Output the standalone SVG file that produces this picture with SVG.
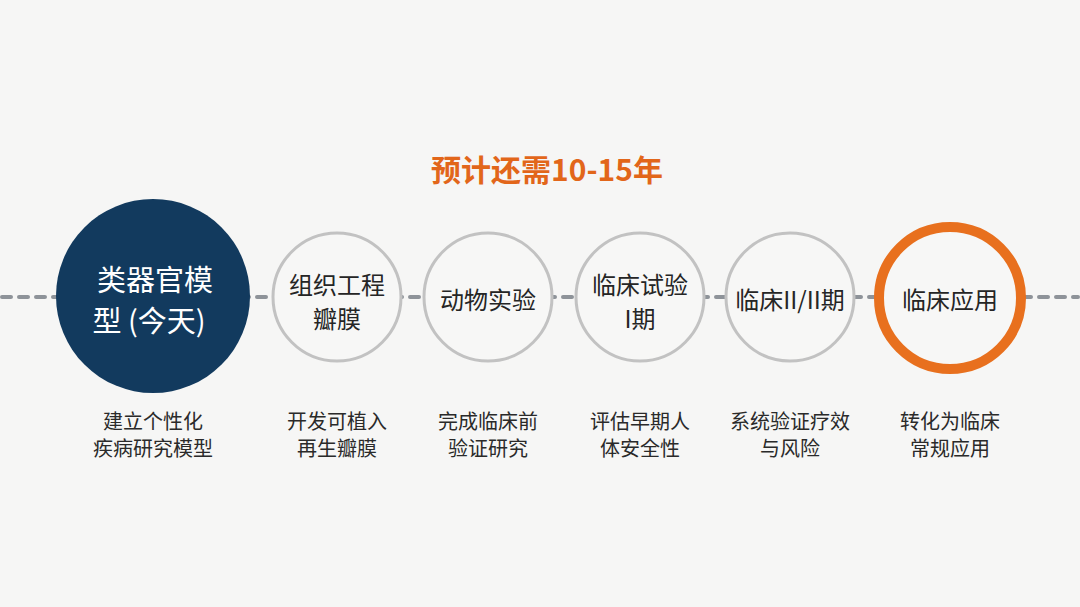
<svg xmlns="http://www.w3.org/2000/svg" width="1080" height="607" viewBox="0 0 1080 607">
<style>
.t{font-family:"Noto Sans CJK SC","Noto Sans",sans-serif;text-anchor:middle;dominant-baseline:central}
.node{fill:#f7f7f6;stroke:#c2c2c2;stroke-width:3}
.in{font-size:24px;fill:#252525}
.sub{font-size:20px;fill:#2a2a2a}
</style>
<rect width="1080" height="607" fill="#f6f6f5"/>
<g id="connectors">
<line x1="2" y1="297" x2="1078" y2="297" stroke="#8e9399" stroke-width="4" stroke-linecap="round" stroke-dasharray="9 8"/>
</g>
<text class="t" x="547" y="168" font-size="30" font-weight="700" fill="#e2661a">预计还需10-15年</text>
<g id="n1">
<circle cx="153" cy="296" r="97" fill="#123a5e"/>
<text class="t" x="155" y="278" font-size="29" fill="#ffffff">类器官模</text>
<text class="t" x="149" y="319" font-size="29" fill="#ffffff">型 (今天)</text>
<text class="t sub" x="153" y="420">建立个性化</text>
<text class="t sub" x="153" y="447">疾病研究模型</text>
</g>
<g id="n2">
<circle class="node" cx="337" cy="297" r="64"/>
<text class="t in" x="337" y="283">组织工程</text>
<text class="t in" x="337" y="317">瓣膜</text>
<text class="t sub" x="337" y="420">开发可植入</text>
<text class="t sub" x="337" y="447">再生瓣膜</text>
</g>
<g id="n3">
<circle class="node" cx="488" cy="297" r="64"/>
<text class="t in" x="488" y="298">动物实验</text>
<text class="t sub" x="488" y="420">完成临床前</text>
<text class="t sub" x="488" y="447">验证研究</text>
</g>
<g id="n4">
<circle class="node" cx="640" cy="297" r="64"/>
<text class="t in" x="640" y="283">临床试验</text>
<text class="t in" x="640" y="317">I期</text>
<text class="t sub" x="640" y="420">评估早期人</text>
<text class="t sub" x="640" y="447">体安全性</text>
</g>
<g id="n5">
<circle class="node" cx="790" cy="297" r="64"/>
<text class="t in" x="790" y="298">临床II/II期</text>
<text class="t sub" x="790" y="420">系统验证疗效</text>
<text class="t sub" x="790" y="447">与风险</text>
</g>
<g id="n6">
<circle cx="950" cy="298" r="71" fill="#f7f7f6" stroke="#e8701e" stroke-width="10"/>
<text class="t in" x="950" y="298">临床应用</text>
<text class="t sub" x="950" y="420">转化为临床</text>
<text class="t sub" x="950" y="447">常规应用</text>
</g>
</svg>
